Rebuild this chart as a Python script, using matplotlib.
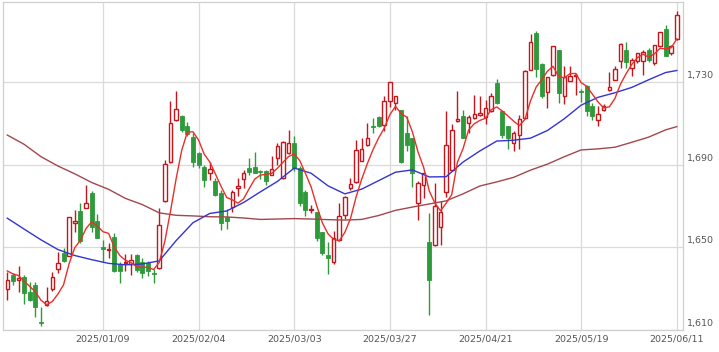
import matplotlib
matplotlib.use("Agg")
import numpy as np
import matplotlib.pyplot as plt
from matplotlib.transforms import ScaledTranslation

# daily candles, 120 trading days ending 2025/06/11
opens = [1630.0, 1636.7, 1634.3, 1635.8, 1628.4, 1631.8, 1614.0, 1622.0, 1629.7, 1639.4,
         1647.2, 1646.0, 1661.8, 1667.9, 1669.2, 1676.6, 1662.9, 1650.2, 1648.6, 1654.9,
         1642.0, 1642.3, 1642.2, 1646.2, 1643.0, 1642.3, 1637.8, 1640.0, 1672.3, 1691.3,
         1711.8, 1713.8, 1708.9, 1703.7, 1696.0, 1688.9, 1686.3, 1682.2, 1676.3, 1665.0,
         1669.8, 1679.0, 1683.1, 1688.4, 1688.9, 1687.1, 1687.1, 1685.2, 1693.3, 1683.6,
         1696.0, 1700.5, 1688.4, 1677.1, 1668.0, 1667.4, 1657.7, 1646.4, 1643.1, 1653.6,
         1665.8, 1678.7, 1681.9, 1692.1, 1699.5, 1708.8, 1713.1, 1709.4, 1721.0, 1720.0,
         1716.7, 1705.5, 1703.0, 1671.4, 1680.3, 1652.8, 1651.2, 1660.1, 1677.1, 1687.6,
         1711.3, 1713.8, 1710.2, 1712.7, 1714.2, 1713.1, 1716.2, 1729.7, 1716.0, 1709.0,
         1700.5, 1704.5, 1712.7, 1736.2, 1753.9, 1739.0, 1725.2, 1733.6, 1745.6, 1723.6,
         1730.8, 1733.0, 1725.6, 1728.2, 1718.6, 1712.0, 1716.5, 1726.4, 1731.2, 1740.3,
         1745.8, 1737.0, 1740.2, 1740.2, 1745.8, 1739.3, 1747.5, 1755.9, 1744.2, 1750.9]
highs = [1638.0, 1637.6, 1641.0, 1636.7, 1633.4, 1633.4, 1621.3, 1631.0, 1638.3, 1648.0,
         1649.6, 1665.0, 1668.2, 1671.8, 1680.3, 1677.2, 1666.1, 1653.6, 1652.0, 1656.9,
         1643.0, 1646.7, 1646.7, 1646.7, 1645.0, 1643.5, 1639.4, 1669.3, 1692.4, 1720.8,
         1725.7, 1714.0, 1711.0, 1705.4, 1696.5, 1690.0, 1691.6, 1683.6, 1677.9, 1668.5,
         1677.9, 1683.6, 1687.6, 1693.3, 1696.5, 1687.6, 1687.5, 1694.5, 1700.7, 1701.5,
         1706.8, 1704.2, 1689.6, 1677.9, 1670.6, 1667.4, 1657.7, 1652.8, 1658.0, 1671.8,
         1675.0, 1683.6, 1701.9, 1703.0, 1710.2, 1712.7, 1713.5, 1723.2, 1730.4, 1723.2,
         1716.7, 1713.6, 1703.0, 1682.0, 1686.0, 1666.6, 1681.5, 1672.4, 1716.0, 1709.8,
         1725.7, 1716.7, 1714.2, 1724.0, 1723.5, 1721.5, 1724.8, 1731.7, 1716.0, 1709.0,
         1706.3, 1714.2, 1736.2, 1753.5, 1754.8, 1739.3, 1732.7, 1747.5, 1745.8, 1737.8,
         1737.8, 1734.5, 1727.0, 1729.0, 1720.0, 1718.6, 1719.5, 1734.9, 1738.0, 1749.3,
         1749.5, 1742.0, 1744.5, 1745.5, 1746.6, 1748.0, 1754.3, 1757.9, 1748.0, 1764.5]
lows = [1624.5, 1631.8, 1628.4, 1622.6, 1624.0, 1616.5, 1612.0, 1621.5, 1629.0, 1637.5,
        1643.0, 1645.7, 1657.7, 1652.0, 1669.0, 1657.7, 1654.5, 1643.2, 1644.7, 1638.3,
        1633.0, 1638.6, 1636.5, 1638.0, 1635.4, 1636.0, 1632.6, 1639.5, 1672.0, 1691.0,
        1711.5, 1706.0, 1704.0, 1688.9, 1688.4, 1679.2, 1682.7, 1674.8, 1658.5, 1659.0,
        1667.4, 1674.8, 1678.7, 1685.2, 1686.0, 1683.0, 1680.3, 1685.0, 1690.0, 1683.0,
        1695.5, 1687.0, 1670.0, 1665.3, 1666.6, 1653.0, 1646.5, 1637.2, 1642.0, 1653.0,
        1663.8, 1678.0, 1681.5, 1691.8, 1699.0, 1705.4, 1708.5, 1706.3, 1718.0, 1716.7,
        1690.9, 1696.7, 1679.2, 1663.3, 1673.9, 1617.3, 1650.8, 1651.2, 1674.4, 1687.0,
        1711.0, 1703.0, 1705.4, 1712.5, 1713.5, 1710.0, 1715.5, 1719.5, 1703.0, 1697.6,
        1697.0, 1697.6, 1712.5, 1736.0, 1732.7, 1722.4, 1717.5, 1733.3, 1720.0, 1719.6,
        1730.5, 1724.0, 1720.3, 1713.6, 1711.6, 1708.7, 1716.0, 1726.0, 1731.0, 1737.0,
        1737.0, 1733.0, 1739.5, 1733.6, 1740.0, 1738.5, 1747.0, 1743.0, 1743.5, 1750.5]
closes = [1634.2, 1633.8, 1635.0, 1628.1, 1624.5, 1621.0, 1613.5, 1624.2, 1635.8, 1642.6,
          1643.5, 1665.0, 1662.9, 1653.2, 1671.4, 1659.7, 1654.5, 1649.5, 1649.2, 1638.8,
          1638.7, 1642.8, 1643.8, 1639.1, 1637.8, 1638.6, 1637.2, 1660.8, 1690.5, 1710.2,
          1717.0, 1706.8, 1705.0, 1691.6, 1690.0, 1682.7, 1688.0, 1675.5, 1662.0, 1663.0,
          1677.1, 1679.8, 1686.0, 1686.8, 1686.3, 1686.5, 1682.0, 1688.0, 1699.0, 1701.0,
          1700.5, 1688.4, 1671.4, 1668.2, 1668.5, 1654.5, 1647.2, 1644.8, 1654.5, 1665.4,
          1674.7, 1680.6, 1697.3, 1697.8, 1703.0, 1708.4, 1708.9, 1721.2, 1730.4, 1723.2,
          1691.2, 1699.7, 1686.0, 1681.5, 1686.0, 1634.0, 1670.1, 1667.4, 1699.7, 1707.0,
          1712.2, 1703.0, 1713.1, 1714.6, 1715.1, 1717.5, 1723.5, 1720.0, 1704.5, 1703.0,
          1705.4, 1712.2, 1735.4, 1749.5, 1736.4, 1723.2, 1732.7, 1747.5, 1725.0, 1732.7,
          1733.3, 1733.4, 1725.2, 1716.0, 1713.5, 1714.7, 1718.8, 1727.8, 1736.4, 1748.5,
          1740.0, 1741.0, 1744.2, 1745.0, 1741.0, 1748.0, 1754.3, 1743.0, 1747.7, 1762.7]
# last closes before the window, needed for the first 5-day averages
prior_closes = [1641.0, 1639.0, 1642.0, 1637.0]

# 25-day and 75-day averages read every 3 days (plus the last day)
ma25 = [1664.2, 1658.9, 1653.7, 1649.0, 1646.1, 1644.1, 1642.3, 1641.6, 1642.0, 1643.5,
        1653.3, 1662.0, 1666.5, 1667.7, 1671.8, 1677.0, 1682.0, 1688.5, 1686.0, 1679.9,
        1676.0, 1678.3, 1682.4, 1686.5, 1687.6, 1684.2, 1684.3, 1691.4, 1696.8, 1701.6,
        1702.0, 1703.0, 1706.7, 1712.4, 1719.0, 1722.8, 1725.0, 1727.6, 1731.3, 1734.8,
        1735.8]
ma75 = [1704.5, 1700.0, 1694.0, 1689.5, 1685.7, 1681.5, 1678.2, 1673.8, 1670.8, 1666.8,
        1665.6, 1665.3, 1664.9, 1664.8, 1664.3, 1663.6, 1663.8, 1664.0, 1663.8, 1663.5,
        1663.3, 1663.6, 1665.5, 1668.0, 1669.6, 1671.1, 1672.6, 1676.0, 1679.8, 1681.8,
        1684.0, 1687.5, 1690.4, 1694.0, 1697.3, 1697.8, 1698.6, 1701.0, 1703.5, 1707.0,
        1708.6]

date_labels = ["2025/01/09", "2025/02/04", "2025/03/03", "2025/03/27",
               "2025/04/21", "2025/05/19", "2025/06/11"]
price_ticks = [1610, 1650, 1690, 1730]

UP = "#c4161c"
DOWN = "#2f9a3c"

o = np.array(opens)
h = np.array(highs)
l = np.array(lows)
c = np.array(closes)
idx = np.arange(len(c))
up = c >= o

ma5 = np.convolve(np.concatenate([prior_closes, c]), np.ones(5) / 5, mode="valid")
ma_idx = np.append(np.arange(0, len(c), 3), len(c) - 1)

fig = plt.figure(figsize=(7.19, 3.52), dpi=100)
ax = fig.add_axes([3 / 719, 22 / 352, 680 / 719, 328 / 352])

# wicks, then bodies on top (white fill hides the wick in hollow candles)
ax.vlines(idx[up], l[up], h[up], color=UP, lw=1.0, zorder=2)
ax.vlines(idx[~up], l[~up], h[~up], color=DOWN, lw=1.0, zorder=2)
body_lo = np.minimum(o, c)
body_h = np.maximum(np.abs(c - o), 0.6)
ax.bar(idx[up], body_h[up], bottom=body_lo[up], width=0.62,
       facecolor="white", edgecolor=UP, linewidth=1.0, zorder=3)
ax.bar(idx[~up], body_h[~up], bottom=body_lo[~up], width=0.72,
       facecolor=DOWN, edgecolor=DOWN, linewidth=0.6, zorder=3)

ax.plot(ma_idx, ma75, color="#a3474c", lw=1.0, zorder=4)
ax.plot(ma_idx, ma25, color="#3434d0", lw=1.0, zorder=4)
ax.plot(idx, ma5, color="#e8302a", lw=1.0, zorder=4)

ax.set_xlim(-0.76, 120.1)
ax.set_ylim(1610, 1769)

ax.set_xticks([17 * (k + 1) for k in range(len(date_labels))])
ax.set_xticklabels(date_labels)
ax.set_yticks(price_ticks)
ax.set_yticklabels([f"{v:,}" for v in price_ticks])
ax.yaxis.tick_right()
ax.grid(True, color="#dadada", lw=0.9)
ax.set_axisbelow(True)
ax.tick_params(length=0, labelsize=6.8, labelcolor="#555555")
ax.tick_params(axis="x", pad=3)
ax.tick_params(axis="y", pad=3)
for lab in ax.get_yticklabels():
    lab.set_transform(lab.get_transform() + ScaledTranslation(0, 7.5 / 100, fig.dpi_scale_trans))
for sp in ax.spines.values():
    sp.set_color("#cfcfcf")
    sp.set_linewidth(0.9)

fig.savefig("out.png", dpi=100)
